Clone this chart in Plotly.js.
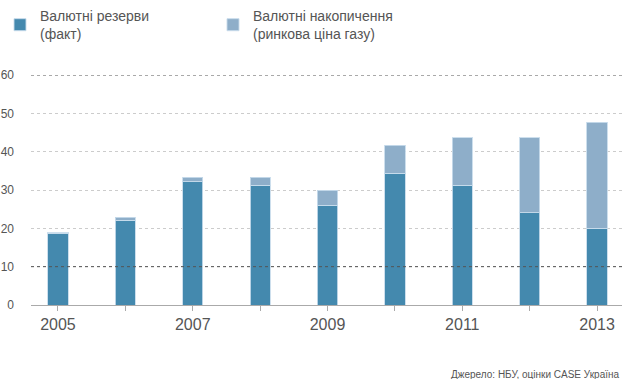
<!DOCTYPE html>
<html>
<head>
<meta charset="utf-8">
<script src="https://cdn.plot.ly/plotly-3.0.1.min.js"></script>
<style>html,body{margin:0;padding:0;background:#fff;}#chart{width:623px;height:379px;}</style>
</head>
<body>
<div id="chart"></div>
<script>
const years = [2005, 2006, 2007, 2008, 2009, 2010, 2011, 2012, 2013];
const reservesFact = [18.7, 22.1, 32.1, 31.3, 26.0, 34.4, 31.3, 24.1, 20.0];
const accumulationsTotal = [18.9, 22.9, 33.3, 33.3, 30.0, 41.7, 43.6, 43.6, 47.7];
const xTickLabels = ['2005', '', '2007', '', '2009', '', '2011', '', '2013'];
const yTicks = [0, 10, 20, 30, 40, 50, 60];
const seriesNames = ['Валютні резерви<br>(факт)', 'Валютні накопичення<br>(ринкова ціна газу)'];
const sourceText = 'Джерело: НБУ, оцінки CASE Україна';

const extra = accumulationsTotal.map((t, i) => Math.max(0, +(t - reservesFact[i]).toFixed(2)));

const darkBlue = 'rgb(68,137,174)';
const lightBlue = 'rgb(142,174,201)';

const traces = [
  {type: 'bar', x: years, y: reservesFact, name: seriesNames[0], width: 0.3,
   marker: {color: darkBlue, line: {color: 'rgba(200,220,235,0.9)', width: 1}}, hoverinfo: 'skip'},
  {type: 'bar', x: years, y: extra, name: seriesNames[1], width: 0.3,
   marker: {color: lightBlue, line: {color: 'rgba(200,220,235,0.9)', width: 1}}, hoverinfo: 'skip'}
];

const strongLines = [10, 60];
const shapes = strongLines.map(v => ({
  type: 'line', xref: 'paper', x0: 0, x1: 1, yref: 'y', y0: v, y1: v,
  line: {color: '#555', width: 1, dash: 'dot'}
}));

const layout = {
  width: 623, height: 379,
  barmode: 'stack',
  margin: {l: 31, r: 1, t: 75, b: 74},
  paper_bgcolor: '#fff', plot_bgcolor: '#fff',
  font: {family: 'Liberation Sans, Arial, sans-serif', color: '#555'},
  showlegend: true,
  legend: {orientation: 'h', xref: 'container', yref: 'container', x: 0, xanchor: 'left',
           y: 1.0, yanchor: 'top',
           font: {size: 14, color: '#555'}, entrywidth: 168, traceorder: 'normal',
           itemwidth: 30},
  xaxis: {range: [2004.6, 2013.37], tickvals: years, ticktext: xTickLabels,
          ticks: 'outside', ticklen: 5, tickcolor: '#aaa', tickwidth: 1,
          showgrid: false, zeroline: false, showline: true, linecolor: '#aaa', linewidth: 1,
          tickfont: {size: 16, color: '#555'}, fixedrange: true},
  yaxis: {range: [0, 60], tickvals: yTicks, showgrid: true, gridcolor: '#ccc', griddash: 'dot',
          gridwidth: 1, zeroline: false, showline: false, ticks: '',
          tickfont: {size: 12, color: '#555'}, ticklabelstandoff: 16, fixedrange: true},
  shapes: shapes,
  annotations: [{text: sourceText, xref: 'paper', yref: 'paper', x: 1.0, y: -0.27,
                 xanchor: 'right', yanchor: 'top', showarrow: false,
                 font: {size: 10, color: '#555'}}]
};

Plotly.newPlot('chart', traces, layout, {displayModeBar: false, staticPlot: true});
</script>
</body>
</html>
